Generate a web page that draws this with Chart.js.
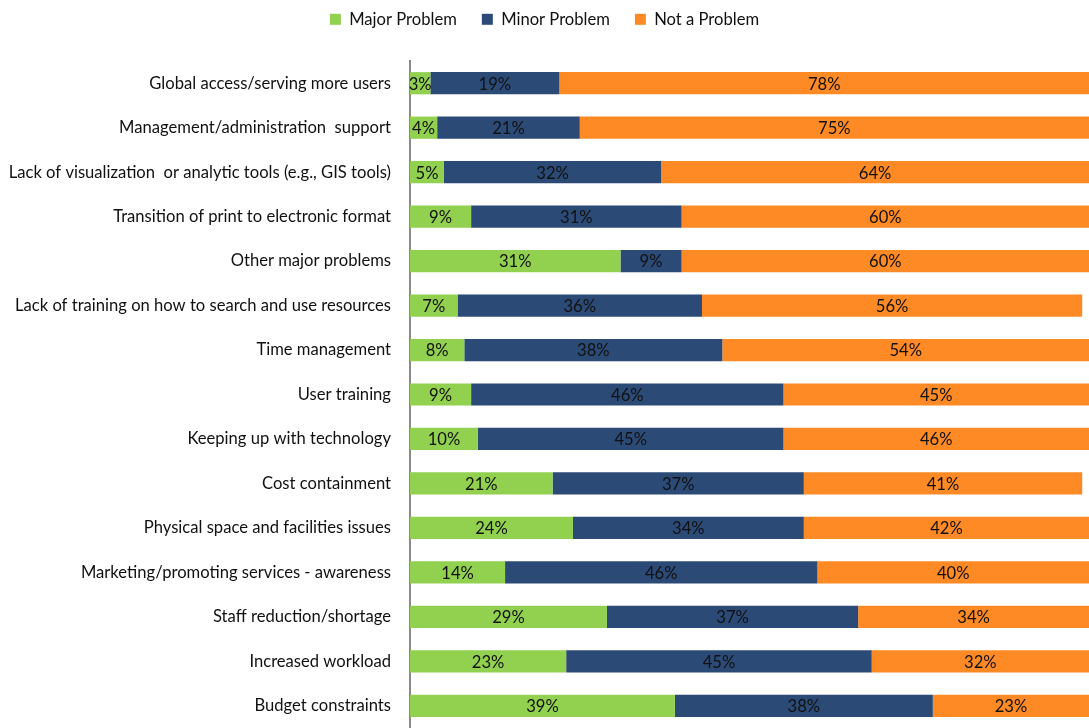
<!DOCTYPE html>
<html>
<head>
<meta charset="utf-8">
<script src="https://cdn.jsdelivr.net/npm/chart.js@4/dist/chart.umd.min.js"></script>
<style>
    html, body { margin: 0; padding: 0; background: #fff; }
    #wrap { width: 1089px; height: 728px; position: relative; }
</style>
</head>
<body>
<div id="wrap"><canvas id="chart"></canvas></div>
<script>
// --- Data ---
const CATEGORIES = [
    'Global access/serving more users',
    'Management/administration  support',
    'Lack of visualization  or analytic tools (e.g., GIS tools)',
    'Transition of print to electronic format',
    'Other major problems',
    'Lack of training on how to search and use resources',
    'Time management',
    'User training',
    'Keeping up with technology',
    'Cost containment',
    'Physical space and facilities issues',
    'Marketing/promoting services - awareness',
    'Staff reduction/shortage',
    'Increased workload',
    'Budget constraints'
];
const MAJOR = [3, 4, 5, 9, 31, 7, 8, 9, 10, 21, 24, 14, 29, 23, 39];
const MINOR = [19, 21, 32, 31, 9, 36, 38, 46, 45, 37, 34, 46, 37, 45, 38];
const NOT_A = [78, 75, 64, 60, 60, 56, 54, 45, 46, 41, 42, 40, 34, 32, 23];

const FONT = 'Lato, "Open Sans", sans-serif';
const FONT_SIZE = 16.6;

// fixed legend band so the plot area starts at the same height every time
const legendGap = {
    id: 'legendGap',
    beforeInit(chart) {
        const fit = chart.legend.fit;
        chart.legend.fit = function () {
            fit.bind(chart.legend)();
            this.height = 75;
        };
    }
};

// percentage text centred in the visible part of each segment
const segmentLabels = {
    id: 'segmentLabels',
    afterDatasetsDraw(chart) {
        const ctx = chart.ctx;
        const area = chart.chartArea;
        ctx.save();
        ctx.font = FONT_SIZE + 'px ' + FONT;
        ctx.fillStyle = '#111';
        ctx.textAlign = 'center';
        ctx.textBaseline = 'middle';
        chart.data.datasets.forEach((ds, i) => {
            const meta = chart.getDatasetMeta(i);
            meta.data.forEach((bar, j) => {
                const left = Math.max(Math.min(bar.x, bar.base), area.left);
                const right = Math.min(Math.max(bar.x, bar.base), area.right);
                ctx.fillText(ds.data[j] + '%', (left + right) / 2, bar.y + 1);
            });
        });
        ctx.restore();
    }
};

window.onload = () => {
    const ctx = document.getElementById('chart').getContext('2d');
    new Chart(ctx, {
        type: 'bar',
        data: {
            labels: CATEGORIES,
            datasets: [
                { label: 'Major Problem', data: MAJOR, backgroundColor: '#92D050' },
                { label: 'Minor Problem', data: MINOR, backgroundColor: '#2C4A76' },
                { label: 'Not a Problem', data: NOT_A, backgroundColor: '#FD8A25' }
            ]
        },
        options: {
            indexAxis: 'y',
            responsive: true,
            maintainAspectRatio: false,
            animation: false,
            datasets: { bar: { barPercentage: 0.5, categoryPercentage: 1.0 } },
            layout: { padding: { top: -14, left: 0, right: 0, bottom: 0 } },
            plugins: {
                legend: {
                    position: 'top',
                    labels: {
                        font: { family: FONT, size: FONT_SIZE },
                        color: '#111',
                        boxWidth: 11,
                        boxHeight: 11,
                        padding: 25
                    }
                },
                tooltip: { enabled: false }
            },
            scales: {
                x: {
                    stacked: true,
                    min: 0,
                    max: 100,
                    display: false
                },
                y: {
                    stacked: true,
                    grid: { display: false },
                    border: { display: true, color: '#8a8a8a', width: 2 },
                    ticks: {
                        font: { family: FONT, size: FONT_SIZE },
                        color: '#111',
                        padding: 11
                    },
                    afterFit(scale) {
                        scale.width = 410;
                        scale.paddingTop = 0;
                        scale.paddingBottom = 0;
                    }
                }
            }
        },
        plugins: [legendGap, segmentLabels]
    });
};
</script>
</body>
</html>
